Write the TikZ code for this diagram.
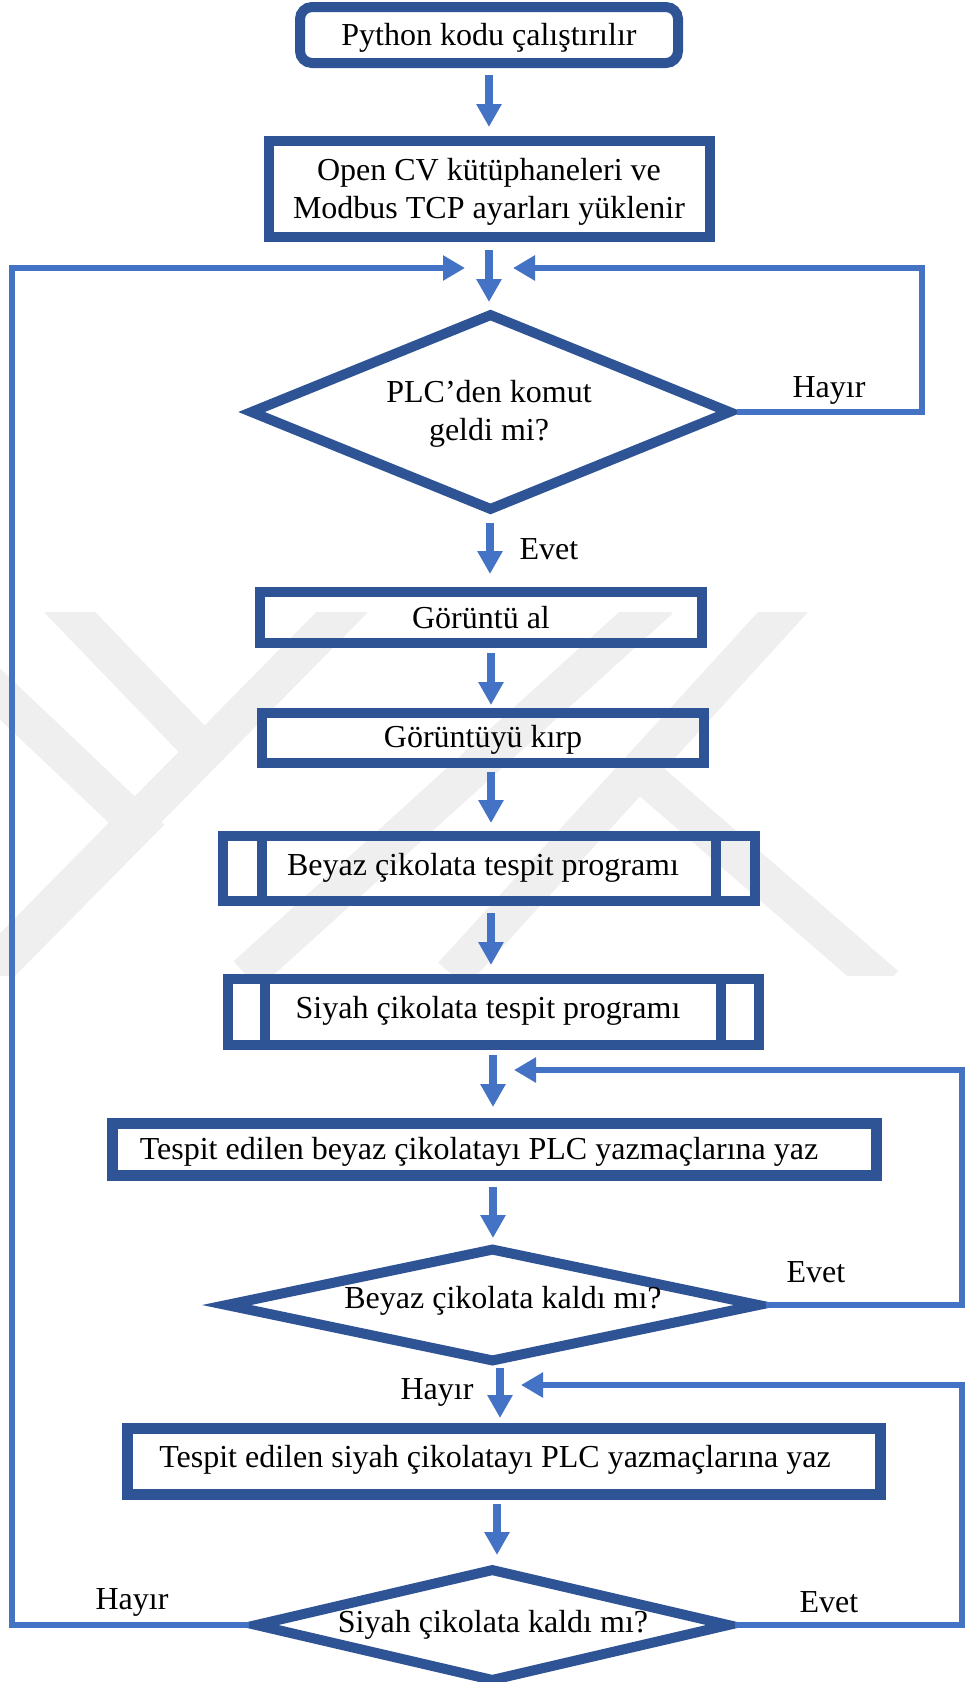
\documentclass[tikz,border=0pt]{standalone}
\usepackage{fontspec}
\setmainfont{Liberation Serif}
\usetikzlibrary{arrows.meta,shapes.geometric,calc}
\definecolor{boxblue}{RGB}{47,84,150}
\definecolor{flowblue}{RGB}{68,114,196}
\definecolor{wmgray}{RGB}{239,239,239}

\begin{document}
\begin{tikzpicture}[x=1pt,y=-1pt,
  every node/.style={font=\fontsize{32}{38}\selectfont, text=black},
  frame/.style={draw=boxblue, line width=10pt, inner sep=0pt},
  startbox/.style={frame, rounded corners=12pt},
  decision/.style={frame, diamond, inner sep=0pt},
  divider/.style={draw=boxblue, line width=10pt},
  arr/.style={draw=flowblue, line width=8pt,
    -{Triangle[width=24pt,length=23pt]}},
  loopline/.style={draw=flowblue, line width=6.5pt,
    -{Triangle[width=24pt,length=22pt]}},
  lbl/.style={inner sep=0pt},
  band/.style={draw=wmgray, line width=37pt}
]
\clip (0,0) rectangle (966,1682);
\fill[white] (0,0) rectangle (966,1682);

% faint background emblem
\begin{scope}
  \clip (0,612) rectangle (966,975);
  \draw[band] (58,600) -- (214,762);
  \draw[band] (-20,675) -- (138,825) -- (-20,985);
  \draw[band] (354,600) -- (-15,975);
  \draw[band] (660,600) -- (246,975);
  \draw[band] (794,600) -- (452,975);
  \draw[band] (640,772) -- (886,985);
\end{scope}

% process steps
\node[startbox, minimum width=378pt, minimum height=56pt] (n1) at (489,35) {};
\node[lbl] (t0) at (489,38) {Python kodu çalıştırılır};
\node[frame, minimum width=441pt, minimum height=96pt] (n2) at (489,189) {};
\node[lbl, align=center] (tn2) at (489,192) {Open CV kütüphaneleri ve\\Modbus TCP ayarları yüklenir};

\node[decision, minimum width=482pt, minimum height=198pt] (d1) at (490.5,412) {};
\node[lbl, align=center] (t1) at (489,414) {PLC’den komut\\geldi mi?};

\node[frame, minimum width=442pt, minimum height=51pt] (n3) at (481,617.5) {};
\node[lbl] (tn3) at (481,617.5) {Görüntü al};
\node[frame, minimum width=442pt, minimum height=50pt] (n4) at (483,738) {};
\node[lbl] (tn4) at (483,740) {Görüntüyü kırp};

\node[frame, minimum width=532pt, minimum height=65pt] (n5) at (489,868.5) {};
\draw[divider] ([xshift=44pt]n5.north west) -- ([xshift=44pt]n5.south west);
\draw[divider] ([xshift=-44pt]n5.north east) -- ([xshift=-44pt]n5.south east);
\node[lbl] (t5) at (483,868) {Beyaz çikolata tespit programı};

\node[frame, minimum width=531pt, minimum height=66pt] (n6) at (493.5,1012) {};
\draw[divider] ([xshift=42pt]n6.north west) -- ([xshift=42pt]n6.south west);
\draw[divider] ([xshift=-43pt]n6.north east) -- ([xshift=-43pt]n6.south east);
\node[lbl] (t6) at (488,1011) {Siyah çikolata tespit programı};

\node[frame, line width=11pt, minimum width=764pt, minimum height=52pt] (n7) at (494,1149) {};
\node[lbl] (t7) at (479,1152) {Tespit edilen beyaz çikolatayı PLC yazmaçlarına yaz};

\node[decision, minimum width=536pt, minimum height=115pt] (d2) at (492.5,1305) {};
\node[lbl] (t2) at (503,1301) {Beyaz çikolata kaldı mı?};

\node[frame, line width=11pt, minimum width=753pt, minimum height=66pt] (n8) at (503.5,1461) {};
\node[lbl] (t8) at (495,1460) {Tespit edilen siyah çikolatayı PLC yazmaçlarına yaz};

\node[decision, minimum width=476pt, minimum height=114pt] (d3) at (492.3,1625) {};
\node[lbl] (t3) at (493,1625) {Siyah çikolata kaldı mı?};

% branch labels
\node[lbl] (h1) at (829,390) {Hayır};
\node[lbl] (e1) at (549,549) {Evet};
\node[lbl] (e2) at (816,1272) {Evet};
\node[lbl] (h2) at (437,1392) {Hayır};
\node[lbl] (h3) at (132,1602) {Hayır};
\node[lbl] (e3) at (829,1602) {Evet};

% loop-back corners and entry points
\coordinate (mergeL) at (465,268);
\coordinate (mergeR) at (513,268);
\coordinate (cL) at (12,268);
\coordinate (cR1) at (922,268);
\coordinate (cR2) at (962,1070);
\coordinate (tipR2) at (514,1070);
\coordinate (cR3) at (962,1385);
\coordinate (tipR3) at (521,1385);

% main flow
\draw[arr] ($(n1.south)+(0,7)$) -- ($(n2.north)+(0,-9)$);
\draw[arr] ($(n2.south)+(0,8)$) -- ($(d1.center)+(-1.5,-110)$);
\draw[arr] ($(d1.center)+(-0.5,111)$) -- ($(n3.north)+(9,-13)$);
\draw[arr] ($(n3.south)+(10,5)$) -- ($(n4.north)+(8,-3)$);
\draw[arr] ($(n4.south)+(8,4)$) -- ($(n5.north)+(2,-8)$);
\draw[arr] ($(n5.south)+(2,7)$) -- ($(n6.north)+(-2.5,-9)$);
\draw[arr] ($(n6.south)+(-0.5,5)$) -- ($(n7.north)+(-1,-10.5)$);
\draw[arr] ($(n7.south)+(-1,6.5)$) -- ($(d2.center)+(0.5,-67)$);
\draw[arr] ($(d2.center)+(7.5,63)$) -- ($(n8.north)+(-3.5,-4.5)$);
\draw[arr] ($(n8.south)+(-6.5,4.5)$) -- ($(d3.center)+(4.7,-70)$);

% loops
\draw[loopline] (d1.east) -| (cR1) -- (mergeR);
\draw[loopline] (d3.west) -| (cL) -- (mergeL);
\draw[loopline] (d2.east) -| (cR2) -- (tipR2);
\draw[loopline] (d3.east) -| (cR3) -- (tipR3);
\end{tikzpicture}
\end{document}
